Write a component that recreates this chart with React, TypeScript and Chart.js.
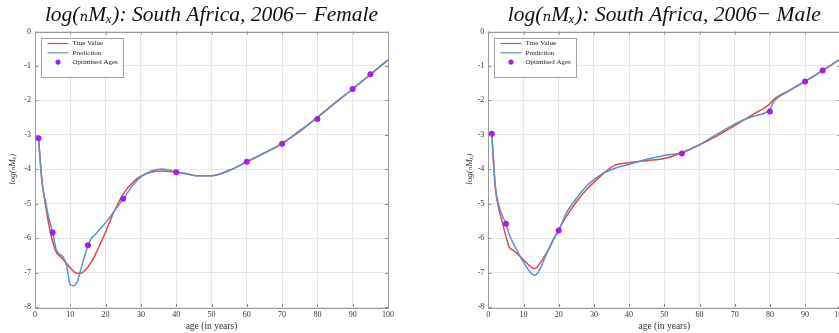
import React, { useEffect, useRef } from 'react';
import { Chart, registerables } from 'chart.js';

Chart.register(...registerables);

// ---------- data ----------
const femaleAges = [1, 2, 3, 4, 5, 6, 7, 8, 9, 10, 11, 12, 13, 14, 15, 16, 17, 18, 20, 22, 25, 28, 30, 33, 36, 40, 43, 46, 50, 55, 60, 65, 70, 75, 80, 85, 90, 95, 100];
const femaleTrue = [-3.10, -4.35, -5.05, -5.65, -6.10, -6.40, -6.52, -6.62, -6.74, -6.87, -6.97, -7.02, -7.02, -6.95, -6.84, -6.68, -6.50, -6.28, -5.82, -5.32, -4.72, -4.35, -4.20, -4.08, -4.05, -4.09, -4.13, -4.19, -4.19, -4.04, -3.79, -3.53, -3.25, -2.90, -2.49, -2.07, -1.67, -1.25, -0.83];
const femalePred = [-3.10, -4.40, -4.95, -5.45, -5.84, -6.32, -6.47, -6.55, -6.82, -7.36, -7.38, -7.25, -6.90, -6.55, -6.21, -6.00, -5.90, -5.78, -5.55, -5.28, -4.86, -4.43, -4.22, -4.05, -3.99, -4.07, -4.14, -4.19, -4.19, -4.03, -3.78, -3.52, -3.26, -2.88, -2.50, -2.08, -1.67, -1.24, -0.82];
const femaleOptAges = [1, 5, 15, 25, 40, 60, 70, 80, 90, 95];
const femaleOptVals = [-3.10, -5.84, -6.21, -4.86, -4.09, -3.78, -3.26, -2.54, -1.67, -1.24];

const maleAges = [1, 2, 3, 4, 5, 6, 7, 8, 9, 10, 11, 12, 13, 14, 15, 16, 17, 18, 20, 22, 25, 28, 30, 33, 36, 40, 45, 50, 55, 60, 65, 70, 75, 80, 81, 85, 90, 95, 100];
const maleTrue = [-2.97, -4.55, -5.15, -5.55, -5.95, -6.27, -6.35, -6.43, -6.53, -6.63, -6.73, -6.83, -6.88, -6.83, -6.68, -6.52, -6.35, -6.15, -5.75, -5.40, -4.95, -4.58, -4.38, -4.10, -3.88, -3.81, -3.75, -3.69, -3.52, -3.29, -3.03, -2.73, -2.42, -2.10, -1.98, -1.74, -1.45, -1.13, -0.80];
const malePred = [-2.97, -4.50, -5.05, -5.35, -5.58, -5.90, -6.13, -6.33, -6.52, -6.70, -6.86, -7.00, -7.08, -7.02, -6.83, -6.58, -6.35, -6.13, -5.78, -5.30, -4.85, -4.48, -4.30, -4.10, -3.97, -3.86, -3.71, -3.60, -3.52, -3.29, -2.98, -2.69, -2.47, -2.26, -2.05, -1.75, -1.45, -1.13, -0.80];
const maleOptAges = [1, 5, 20, 55, 80, 90, 95];
const maleOptVals = [-2.97, -5.58, -5.78, -3.54, -2.32, -1.45, -1.13];

const seriesLabels = ['True Value', 'Prediction', 'Optimised Ages'];
const titleFemale = 'log(\u2099M\u2093): South Africa, 2006\u2212 Female';
const titleMale = 'log(\u2099M\u2093): South Africa, 2006\u2212 Male';
const yAxisTitle = 'log(\u2099M\u2093)';
const xAxisTitle = 'age (in years)';
const xMin = 0, xMax = 100, xStep = 10;
const yMin = -8, yMax = 0, yStep = 1;

// ---------- styles ----------
const RED = '#df4650';
const BLUE = '#5b93c4';
const PURPLE = '#a21ff0';
const SERIF = "'Liberation Serif', 'DejaVu Serif', serif";

const zip = (xs: number[], ys: number[]) => xs.map((x, i) => ({ x, y: ys[i] }));

const framePlugin = {
  id: 'matlabFrame',
  afterDatasetsDraw(chart: any) {
    const { ctx, chartArea: a, scales } = chart;
    ctx.save();
    ctx.strokeStyle = '#8a8a8a';
    ctx.lineWidth = 1;
    const tl = 3;
    ctx.beginPath();
    scales.x.ticks.forEach((t: any) => {
      const px = Math.round(scales.x.getPixelForValue(t.value)) + 0.5;
      ctx.moveTo(px, a.top); ctx.lineTo(px, a.top + tl);
      ctx.moveTo(px, a.bottom); ctx.lineTo(px, a.bottom - tl);
    });
    scales.y.ticks.forEach((t: any) => {
      const py = Math.round(scales.y.getPixelForValue(t.value)) + 0.5;
      ctx.moveTo(a.left, py); ctx.lineTo(a.left + tl, py);
      ctx.moveTo(a.right, py); ctx.lineTo(a.right - tl, py);
    });
    ctx.stroke();
    ctx.strokeStyle = '#9a9a9a';
    ctx.strokeRect(Math.round(a.left) + 0.5, Math.round(a.top) + 0.5, Math.round(a.right - a.left), Math.round(a.bottom - a.top));

    // legend box
    const ds = chart.data.datasets;
    const x0 = Math.round(a.left + 6) + 0.5;
    const y0 = Math.round(a.top + 6) + 0.5;
    const w = 82, h = 39;
    ctx.fillStyle = '#ffffff';
    ctx.fillRect(x0, y0, w, h);
    ctx.strokeStyle = '#a0a0a0';
    ctx.strokeRect(x0, y0, w, h);
    ctx.font = `7px ${SERIF}`;
    ctx.textBaseline = 'middle';
    ds.forEach((d: any, i: number) => {
      const cy = y0 + 5 + i * 9.3;
      if (d.type === 'scatter') {
        ctx.fillStyle = d.backgroundColor;
        ctx.beginPath();
        ctx.arc(x0 + 16.5, cy, 2.6, 0, Math.PI * 2);
        ctx.fill();
      } else {
        ctx.strokeStyle = d.borderColor;
        ctx.lineWidth = 1.2;
        ctx.beginPath();
        ctx.moveTo(x0 + 6, cy);
        ctx.lineTo(x0 + 27, cy);
        ctx.stroke();
      }
      ctx.fillStyle = '#222';
      ctx.fillText(d.label, x0 + 31, cy);
    });
    ctx.restore();
  },
};

type PanelProps = {
  title: string;
  ages: number[];
  trueVals: number[];
  predVals: number[];
  optAges: number[];
  optVals: number[];
  canvasWidth: number;
  yAxisWidth: number;
  rightPad: number;
  yTitlePad: number;
};

function Panel(p: PanelProps) {
  const ref = useRef<HTMLCanvasElement | null>(null);
  useEffect(() => {
    if (!ref.current) return;
    const chart = new Chart(ref.current, {
      type: 'line',
      data: {
        datasets: [
          {
            type: 'line',
            label: seriesLabels[0],
            data: zip(p.ages, p.trueVals),
            borderColor: RED,
            borderWidth: 1.5,
            pointRadius: 0,
            cubicInterpolationMode: 'monotone',
            order: 2,
          } as any,
          {
            type: 'line',
            label: seriesLabels[1],
            data: zip(p.ages, p.predVals),
            borderColor: BLUE,
            borderWidth: 1.5,
            pointRadius: 0,
            cubicInterpolationMode: 'monotone',
            order: 1,
          } as any,
          {
            type: 'scatter',
            label: seriesLabels[2],
            data: zip(p.optAges, p.optVals),
            backgroundColor: PURPLE,
            borderWidth: 0,
            pointRadius: 3,
            order: 0,
          } as any,
        ],
      },
      options: {
        responsive: false,
        animation: false,
        devicePixelRatio: 1,
        layout: { padding: { left: 0, right: p.rightPad, top: 0, bottom: 0 } },
        plugins: {
          legend: { display: false },
          tooltip: { enabled: false },
          title: {
            display: true,
            text: p.title,
            fullSize: false,
            color: '#111',
            font: { family: SERIF, size: 21.5, style: 'italic', weight: 'normal', lineHeight: 1.2 },
            padding: { top: 2, bottom: 3.7 },
          },
        },
        scales: {
          x: {
            type: 'linear',
            min: xMin,
            max: xMax,
            afterFit: (s: any) => { s.height = 26; },
            ticks: { stepSize: xStep, color: '#333', padding: 3, font: { family: SERIF, size: 8 }, maxRotation: 0 },
            grid: { color: '#e6e6e6', drawTicks: false },
            border: { display: false },
            title: {
              display: true,
              text: xAxisTitle,
              color: '#333',
              font: { family: SERIF, size: 9.5, lineHeight: 1.2 },
              padding: { top: 0, bottom: 0.6 },
            },
          },
          y: {
            type: 'linear',
            min: yMin,
            max: yMax,
            afterFit: (s: any) => { s.width = p.yAxisWidth; },
            ticks: { stepSize: yStep, color: '#333', padding: 4, font: { family: SERIF, size: 8 } },
            grid: { color: '#e6e6e6', drawTicks: false },
            border: { display: false },
            title: {
              display: true,
              text: yAxisTitle,
              color: '#333',
              font: { family: SERIF, size: 9, style: 'italic', lineHeight: 1.2 },
              padding: { top: p.yTitlePad, bottom: 0 },
            },
          },
        },
      },
      plugins: [framePlugin],
    } as any);
    return () => chart.destroy();
  }, []);
  return (
    <canvas
      ref={ref}
      width={p.canvasWidth}
      height={333}
      style={{ width: p.canvasWidth, height: 333, display: 'block' }}
    />
  );
}

export default function App() {
  return (
    <div style={{ position: 'fixed', left: 0, top: 0, width: 839, height: 333, overflow: 'hidden', background: '#fff' }}>
      <div style={{ position: 'absolute', left: 0, top: 0 }}>
        <Panel
          title={titleFemale}
          ages={femaleAges}
          trueVals={femaleTrue}
          predVals={femalePred}
          optAges={femaleOptAges}
          optVals={femaleOptVals}
          canvasWidth={420}
          yAxisWidth={35}
          rightPad={32}
          yTitlePad={7.6}
        />
      </div>
      <div style={{ position: 'absolute', left: 420, top: 0 }}>
        <Panel
          title={titleMale}
          ages={maleAges}
          trueVals={maleTrue}
          predVals={malePred}
          optAges={maleOptAges}
          optVals={maleOptVals}
          canvasWidth={440}
          yAxisWidth={68.3}
          rightPad={19.7}
          yTitlePad={44.6}
        />
      </div>
    </div>
  );
}
